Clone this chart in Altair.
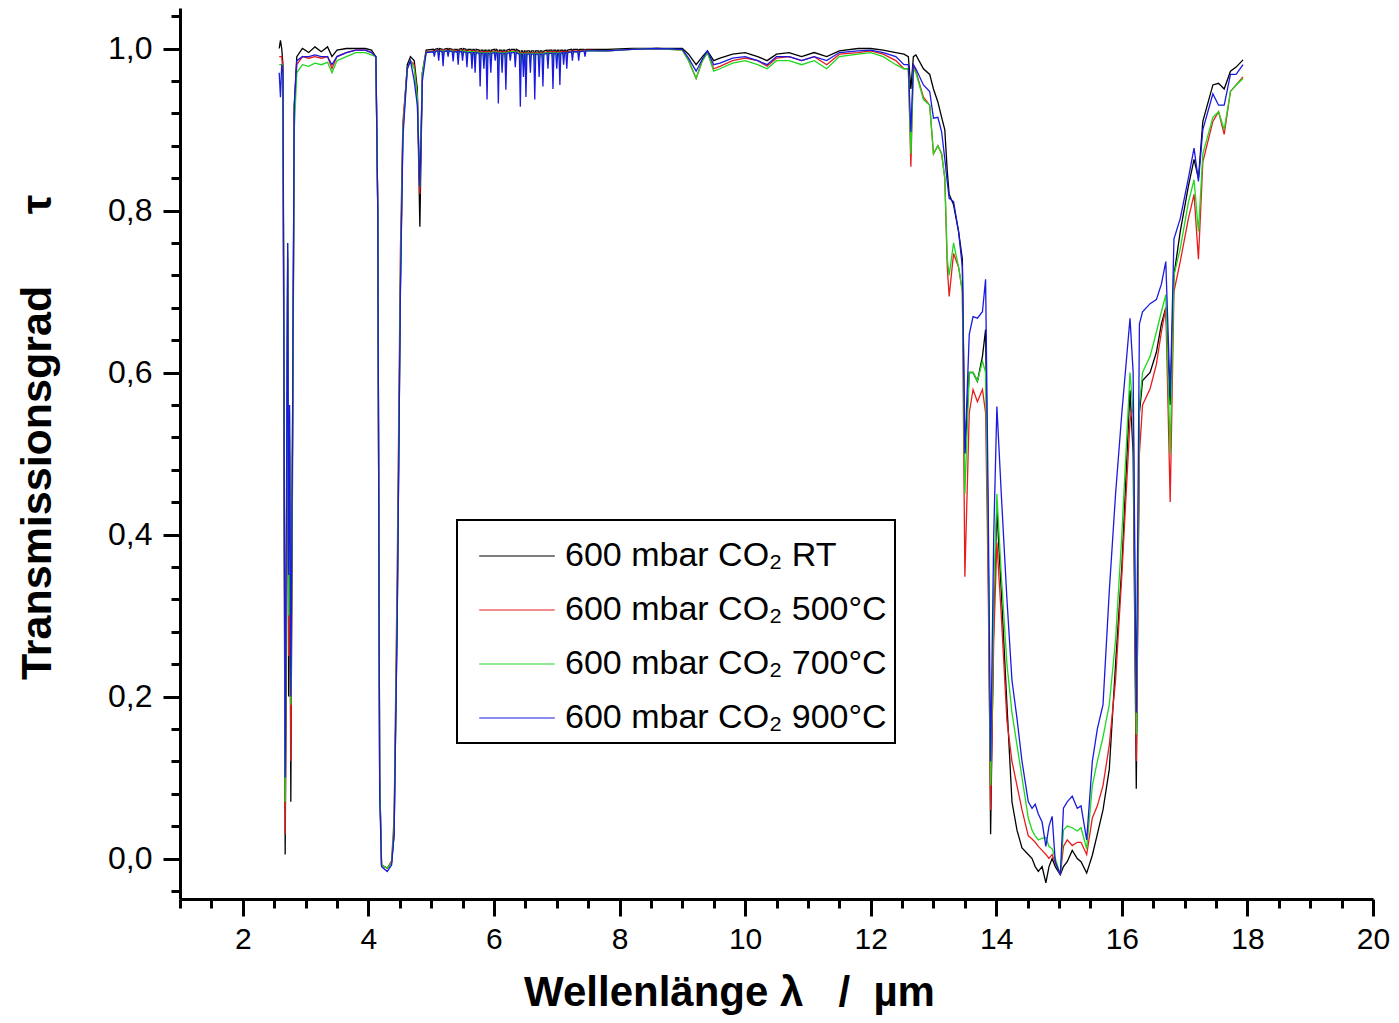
import altair as alt
import pandas as pd

# Wavelength grid (µm)
wavelength = [
    # 2.7 µm band
    2.58, 2.60, 2.62, 2.64, 2.66, 2.675, 2.69, 2.715, 2.73, 2.745, 2.765, 2.79, 2.82, 2.86,
    # plateau + 4.3 µm band
    2.95, 3.05, 3.15, 3.25, 3.35, 3.42, 3.50, 3.65, 3.80, 3.95, 4.05,
    4.12, 4.15, 4.18, 4.21, 4.30, 4.37, 4.41, 4.46, 4.51, 4.55, 4.62, 4.67, 4.73, 4.78, 4.82, 4.86, 4.92,
    # water vapour lines
    5.035, 5.05, 5.065, 5.105, 5.12, 5.135, 5.175, 5.19, 5.205, 5.255, 5.27, 5.285,
    5.335, 5.35, 5.365, 5.415, 5.43, 5.445, 5.485, 5.50, 5.515, 5.555, 5.57, 5.585,
    5.635, 5.65, 5.665, 5.685, 5.70, 5.715, 5.765, 5.78, 5.795, 5.825, 5.84, 5.855,
    5.875, 5.89, 5.905, 5.935, 5.95, 5.965, 6.005, 6.02, 6.035, 6.055, 6.07, 6.085,
    6.115, 6.13, 6.145, 6.175, 6.19, 6.205, 6.245, 6.26, 6.275, 6.325, 6.34, 6.355,
    6.405, 6.42, 6.435, 6.455, 6.47, 6.485, 6.495, 6.51, 6.525, 6.565, 6.58, 6.595,
    6.635, 6.65, 6.665, 6.705, 6.72, 6.735, 6.765, 6.78, 6.795, 6.845, 6.86, 6.875,
    6.925, 6.94, 6.955, 6.985, 7.00, 7.015, 7.035, 7.05, 7.065, 7.095, 7.11, 7.125,
    7.145, 7.16, 7.175, 7.235, 7.25, 7.265, 7.335, 7.35, 7.365, 7.435, 7.45, 7.465,
    7.80, 8.20, 8.60, 9.00,
    # 9 - 13.9 µm
    9.10, 9.22, 9.32, 9.40, 9.50, 9.60, 9.80, 10.00, 10.20, 10.35, 10.50, 10.70, 10.90, 11.10, 11.30, 11.50, 11.80, 12.00, 12.20, 12.40, 12.53,
    12.60, 12.64, 12.68, 12.72, 12.84, 12.94, 13.00, 13.07, 13.13, 13.18, 13.22, 13.25, 13.32, 13.40, 13.46, 13.50,
    13.57, 13.63, 13.70, 13.78, 13.83, 13.87,
    # 15 µm band
    13.91, 13.96, 14.01, 14.08, 14.17, 14.25, 14.33, 14.41, 14.51, 14.57, 14.62, 14.67, 14.73, 14.79, 14.84, 14.89, 14.94,
    15.02, 15.07, 15.13, 15.21, 15.29, 15.35, 15.44, 15.53, 15.61, 15.70, 15.80, 15.90, 16.00, 16.13,
    16.18, 16.23, 16.28, 16.33, 16.45, 16.55, 16.63, 16.70, 16.77, 16.83, 16.93, 17.06, 17.15, 17.22, 17.29, 17.45, 17.54, 17.63, 17.73, 17.82, 17.93,
]

t_rt = [
    1.00, 1.01, 1.00, 0.98, 0.40, 0.005, 0.20, 0.74, 0.20, 0.50, 0.07, 0.50, 0.93, 0.99,
    1.000, 0.995, 1.002, 0.996, 1.002, 0.990, 0.998, 1.000, 1.000, 1.000, 0.998,
    0.99, 0.80, 0.10, -0.008, -0.012, -0.005, 0.03, 0.30, 0.70, 0.90, 0.98, 0.99, 0.985, 0.95, 0.78, 0.97, 0.998,
    0.999, 0.997, 0.999, 1.000, 0.996, 1.000, 0.999, 0.990, 0.999, 1.000, 0.997, 1.000,
    0.999, 0.995, 0.999, 0.999, 0.993, 0.999, 1.000, 0.995, 1.000, 0.999, 0.992, 0.999,
    0.999, 0.991, 0.999, 0.999, 0.990, 0.999, 0.998, 0.988, 0.998, 0.998, 0.993, 0.998,
    0.998, 0.985, 0.998, 0.998, 0.992, 0.998, 0.999, 0.996, 0.999, 0.998, 0.984, 0.998,
    0.998, 0.992, 0.998, 0.998, 0.988, 0.998, 0.999, 0.996, 0.999, 0.999, 0.994, 0.999,
    0.997, 0.982, 0.997, 0.997, 0.991, 0.997, 0.997, 0.986, 0.997, 0.997, 0.992, 0.997,
    0.997, 0.986, 0.997, 0.997, 0.991, 0.997, 0.997, 0.989, 0.997, 0.998, 0.993, 0.998,
    0.998, 0.988, 0.998, 0.998, 0.994, 0.998, 0.998, 0.990, 0.998, 0.998, 0.995, 0.998,
    0.998, 0.994, 0.998, 0.999, 0.996, 0.999, 0.999, 0.996, 0.999, 0.999, 0.997, 0.999,
    0.999, 1.000, 1.000, 1.000,
    0.993, 0.980, 0.990, 0.997, 0.985, 0.988, 0.993, 0.995, 0.990, 0.985, 0.993, 0.995, 0.990, 0.995, 0.990, 0.997, 1.000, 1.000, 0.998, 0.995, 0.993,
    0.990, 0.950, 0.990, 0.992, 0.975, 0.968, 0.950, 0.934, 0.915, 0.900, 0.848, 0.820, 0.807, 0.774, 0.740, 0.500,
    0.600, 0.600, 0.589, 0.620, 0.653, 0.400,
    0.030, 0.300, 0.430, 0.330, 0.190, 0.070, 0.035, 0.013, 0.005, 0.000, -0.010, -0.016, -0.010, -0.030, -0.010, 0.000, -0.010,
    -0.020, -0.010, -0.004, 0.010, 0.000, -0.004, -0.018, 0.004, 0.030, 0.060, 0.110, 0.240, 0.360, 0.578,
    0.500, 0.086, 0.550, 0.590, 0.600, 0.625, 0.660, 0.680, 0.560, 0.720, 0.774, 0.830, 0.863, 0.840, 0.910, 0.955, 0.957, 0.950, 0.972, 0.977, 0.986,
]

t_500 = [
    0.99, 0.99, 0.99, 0.97, 0.45, 0.03, 0.25, 0.75, 0.25, 0.52, 0.12, 0.45, 0.92, 0.98,
    0.990, 0.988, 0.990, 0.988, 0.990, 0.975, 0.990, 0.995, 0.998, 0.998, 0.995,
    0.99, 0.80, 0.10, -0.008, -0.012, -0.003, 0.05, 0.36, 0.75, 0.91, 0.975, 0.985, 0.98, 0.94, 0.82, 0.97, 0.996,
    0.997, 0.995, 0.997, 0.998, 0.994, 0.998, 0.998, 0.988, 0.998, 0.998, 0.995, 0.998,
    0.998, 0.993, 0.998, 0.997, 0.991, 0.997, 0.998, 0.993, 0.998, 0.997, 0.990, 0.997,
    0.997, 0.989, 0.997, 0.997, 0.988, 0.997, 0.996, 0.985, 0.996, 0.996, 0.991, 0.996,
    0.996, 0.982, 0.996, 0.996, 0.990, 0.996, 0.997, 0.994, 0.997, 0.996, 0.980, 0.996,
    0.996, 0.990, 0.996, 0.996, 0.985, 0.996, 0.997, 0.994, 0.997, 0.997, 0.992, 0.997,
    0.995, 0.978, 0.995, 0.995, 0.989, 0.995, 0.995, 0.983, 0.995, 0.995, 0.990, 0.995,
    0.995, 0.983, 0.995, 0.995, 0.989, 0.995, 0.995, 0.986, 0.995, 0.996, 0.991, 0.996,
    0.996, 0.985, 0.996, 0.996, 0.992, 0.996, 0.996, 0.987, 0.996, 0.996, 0.993, 0.996,
    0.996, 0.992, 0.996, 0.997, 0.994, 0.997, 0.997, 0.994, 0.997, 0.998, 0.995, 0.998,
    0.997, 0.999, 1.000, 0.998,
    0.985, 0.963, 0.985, 0.995, 0.975, 0.978, 0.985, 0.988, 0.985, 0.978, 0.988, 0.990, 0.985, 0.990, 0.980, 0.993, 0.995, 0.997, 0.993, 0.985, 0.975,
    0.975, 0.854, 0.980, 0.972, 0.940, 0.930, 0.870, 0.880, 0.870, 0.840, 0.730, 0.694, 0.747, 0.730, 0.700, 0.348,
    0.550, 0.579, 0.564, 0.579, 0.550, 0.350,
    0.060, 0.270, 0.390, 0.300, 0.170, 0.120, 0.090, 0.060, 0.028, 0.024, 0.020, 0.015, 0.010, 0.005, 0.000, 0.005, -0.005,
    -0.020, 0.015, 0.023, 0.016, 0.020, 0.020, 0.005, 0.050, 0.065, 0.090, 0.140, 0.220, 0.350, 0.540,
    0.560, 0.120, 0.500, 0.560, 0.580, 0.610, 0.650, 0.680, 0.440, 0.700, 0.737, 0.790, 0.820, 0.740, 0.860, 0.910, 0.922, 0.894, 0.947, 0.955, 0.965,
]

t_700 = [
    0.98, 0.98, 0.98, 0.97, 0.50, 0.07, 0.30, 0.76, 0.30, 0.55, 0.19, 0.45, 0.90, 0.97,
    0.980, 0.978, 0.982, 0.980, 0.983, 0.970, 0.985, 0.990, 0.995, 0.995, 0.992,
    0.99, 0.80, 0.10, -0.008, -0.012, -0.005, 0.04, 0.33, 0.72, 0.90, 0.975, 0.985, 0.975, 0.94, 0.83, 0.97, 0.995,
    0.996, 0.994, 0.996, 0.997, 0.993, 0.997, 0.997, 0.986, 0.997, 0.997, 0.994, 0.997,
    0.997, 0.991, 0.997, 0.996, 0.989, 0.996, 0.997, 0.991, 0.997, 0.996, 0.988, 0.996,
    0.996, 0.987, 0.996, 0.996, 0.985, 0.996, 0.995, 0.982, 0.995, 0.995, 0.989, 0.995,
    0.995, 0.978, 0.995, 0.995, 0.988, 0.995, 0.996, 0.993, 0.996, 0.995, 0.976, 0.995,
    0.995, 0.988, 0.995, 0.995, 0.982, 0.995, 0.996, 0.993, 0.996, 0.996, 0.990, 0.996,
    0.994, 0.974, 0.994, 0.994, 0.987, 0.994, 0.994, 0.980, 0.994, 0.994, 0.988, 0.994,
    0.994, 0.980, 0.994, 0.994, 0.987, 0.994, 0.994, 0.983, 0.994, 0.995, 0.989, 0.995,
    0.995, 0.982, 0.995, 0.995, 0.990, 0.995, 0.995, 0.984, 0.995, 0.995, 0.991, 0.995,
    0.995, 0.990, 0.995, 0.996, 0.993, 0.996, 0.996, 0.993, 0.996, 0.997, 0.994, 0.997,
    0.997, 0.999, 1.000, 0.998,
    0.985, 0.963, 0.985, 0.995, 0.972, 0.975, 0.982, 0.985, 0.980, 0.975, 0.985, 0.985, 0.980, 0.985, 0.975, 0.990, 0.993, 0.995, 0.990, 0.980, 0.975,
    0.975, 0.870, 0.975, 0.970, 0.937, 0.930, 0.870, 0.880, 0.870, 0.840, 0.740, 0.720, 0.760, 0.730, 0.700, 0.450,
    0.600, 0.600, 0.589, 0.614, 0.600, 0.400,
    0.090, 0.320, 0.450, 0.350, 0.240, 0.180, 0.140, 0.100, 0.050, 0.035, 0.028, 0.023, 0.025, 0.026, 0.015, 0.012, 0.000,
    -0.020, 0.035, 0.040, 0.038, 0.034, 0.038, 0.012, 0.090, 0.120, 0.150, 0.190, 0.270, 0.400, 0.600,
    0.550, 0.153, 0.560, 0.600, 0.620, 0.650, 0.675, 0.696, 0.500, 0.720, 0.753, 0.810, 0.838, 0.774, 0.870, 0.915, 0.922, 0.900, 0.947, 0.955, 0.963,
]

t_900 = [
    0.97, 0.94, 0.98, 0.97, 0.50, 0.10, 0.35, 0.76, 0.35, 0.56, 0.20, 0.50, 0.93, 0.985,
    0.990, 0.990, 0.992, 0.990, 0.990, 0.980, 0.990, 0.995, 0.998, 0.998, 0.995,
    0.99, 0.80, 0.08, -0.010, -0.016, -0.008, 0.03, 0.30, 0.70, 0.89, 0.975, 0.985, 0.96, 0.93, 0.83, 0.96, 0.995,
    0.996, 0.990, 0.996, 0.997, 0.985, 0.997, 0.996, 0.978, 0.996, 0.997, 0.990, 0.997,
    0.996, 0.984, 0.996, 0.996, 0.980, 0.996, 0.996, 0.985, 0.996, 0.995, 0.977, 0.995,
    0.995, 0.975, 0.995, 0.995, 0.970, 0.995, 0.994, 0.953, 0.994, 0.994, 0.975, 0.994,
    0.994, 0.937, 0.994, 0.994, 0.970, 0.994, 0.995, 0.985, 0.995, 0.994, 0.932, 0.994,
    0.994, 0.970, 0.994, 0.994, 0.949, 0.994, 0.995, 0.985, 0.995, 0.995, 0.977, 0.995,
    0.993, 0.928, 0.993, 0.993, 0.965, 0.993, 0.993, 0.940, 0.993, 0.993, 0.970, 0.993,
    0.993, 0.937, 0.993, 0.993, 0.965, 0.993, 0.993, 0.953, 0.993, 0.994, 0.975, 0.994,
    0.994, 0.950, 0.994, 0.994, 0.975, 0.994, 0.994, 0.955, 0.994, 0.995, 0.980, 0.995,
    0.995, 0.975, 0.995, 0.996, 0.985, 0.996, 0.996, 0.985, 0.996, 0.997, 0.990, 0.997,
    0.997, 0.999, 1.000, 0.999,
    0.988, 0.972, 0.987, 0.997, 0.980, 0.982, 0.988, 0.990, 0.985, 0.980, 0.990, 0.990, 0.985, 0.990, 0.985, 0.995, 0.997, 0.998, 0.995, 0.990, 0.980,
    0.980, 0.897, 0.980, 0.975, 0.955, 0.947, 0.914, 0.915, 0.897, 0.864, 0.835, 0.815, 0.811, 0.774, 0.730, 0.500,
    0.647, 0.669, 0.667, 0.675, 0.715, 0.450,
    0.120, 0.400, 0.558, 0.450, 0.320, 0.220, 0.173, 0.120, 0.070, 0.062, 0.067, 0.055, 0.045, 0.015, 0.040, 0.052, -0.004,
    -0.020, 0.062, 0.070, 0.077, 0.062, 0.065, 0.023, 0.120, 0.160, 0.190, 0.330, 0.450, 0.550, 0.667,
    0.600, 0.180, 0.660, 0.675, 0.685, 0.690, 0.709, 0.737, 0.570, 0.765, 0.790, 0.840, 0.877, 0.836, 0.900, 0.944, 0.930, 0.930, 0.968, 0.968, 0.980,
]

series_names = [
    "600 mbar CO\u2082 RT",
    "600 mbar CO\u2082 500°C",
    "600 mbar CO\u2082 700°C",
    "600 mbar CO\u2082 900°C",
]
series_colors = ["#000000", "#e81c1c", "#1ed81e", "#1a1ae0"]
series_values = [t_rt, t_500, t_700, t_900]

for s in series_values:
    assert len(s) == len(wavelength), (len(s), len(wavelength))

rows = []
for k, (name, vals) in enumerate(zip(series_names, series_values)):
    for i, (lam, tau) in enumerate(zip(wavelength, vals)):
        rows.append({"lam": lam, "tau": tau, "serie": name, "k": k, "i": i})
df = pd.DataFrame(rows)

x_ticks = [1 + 0.5 * i for i in range(39)]
y_ticks = [round(-0.04 + 0.04 * i, 2) for i in range(28)]

FONT = "Liberation Sans"
NB = "\u00a0"
Y_MAJOR = "abs(datum.value*5 - round(datum.value*5)) < 0.000001"

x_axis = alt.Axis(
    values=x_ticks,
    labelExpr="datum.value % 2 == 0 ? format(datum.value, 'd') : ''",
    tickSize={"condition": {"test": "datum.value % 2 == 0", "value": 17}, "value": 9},
    tickWidth=3, tickColor="black",
    domainWidth=3, domainColor="black",
    labelFont=FONT, labelFontSize=30, labelColor="black", labelPadding=8,
    labelOverlap=False, labelFlush=False,
    grid=False,
    title="Wellenlänge λ" + NB * 3 + "/" + NB * 2 + "µm",
    titleFont=FONT, titleFontSize=42, titleFontWeight="bold", titleColor="black",
    titleX=549, titleY=106, titleBaseline="alphabetic", titleAlign="center", titleAnchor="start",
)

y_axis = alt.Axis(
    values=y_ticks,
    labelExpr=Y_MAJOR + " ? replace(format(datum.value, '.1f'), '.', ',') : ''",
    tickSize={"condition": {"test": Y_MAJOR, "value": 17}, "value": 9},
    tickWidth=3, tickColor="black",
    domainWidth=3, domainColor="black",
    labelFont=FONT, labelFontSize=32, labelColor="black", labelPadding=11,
    labelOverlap=False, labelFlush=False,
    grid=False,
    title="Transmissionsgrad" + NB * 6 + "τ",
    titleFont=FONT, titleFontSize=43, titleFontWeight="bold", titleColor="black",
    titleX=-130, titleY=429, titleBaseline="alphabetic", titleAlign="center", titleAnchor="start",
)

chart = alt.Chart(df).mark_line(strokeWidth=1.3, clip=True).encode(
    x=alt.X("lam:Q", scale=alt.Scale(domain=[1, 20], nice=False, zero=False), axis=x_axis),
    y=alt.Y("tau:Q", scale=alt.Scale(domain=[-0.05, 1.05], nice=False, zero=False), axis=y_axis),
    color=alt.Color(
        "serie:N",
        scale=alt.Scale(domain=series_names, range=series_colors),
        sort=series_names,
        legend=alt.Legend(
            orient="none", legendX=277, legendY=512, title=None,
            symbolType="M-1.4,0H1.4", symbolSize=2916, symbolStrokeWidth=1.2,
            symbolOffset=24, labelOffset=20,
            labelFont=FONT, labelFontSize=34, labelColor="black", labelLimit=0,
            padding=8, rowPadding=9, strokeColor="black",
        ),
    ),
    order=alt.Order("k:Q"),
    detail="serie:N",
).properties(
    width=1193, height=891,
    background="white",
    autosize=alt.AutoSizeParams(type="none"),
    padding={"left": 172, "top": 0, "right": 18, "bottom": 116},
).configure_view(strokeWidth=0, stroke="transparent").configure_legend(strokeWidth=2, strokeColor="black")

chart.save("out.html", embed_options={"renderer": "svg", "actions": False})
